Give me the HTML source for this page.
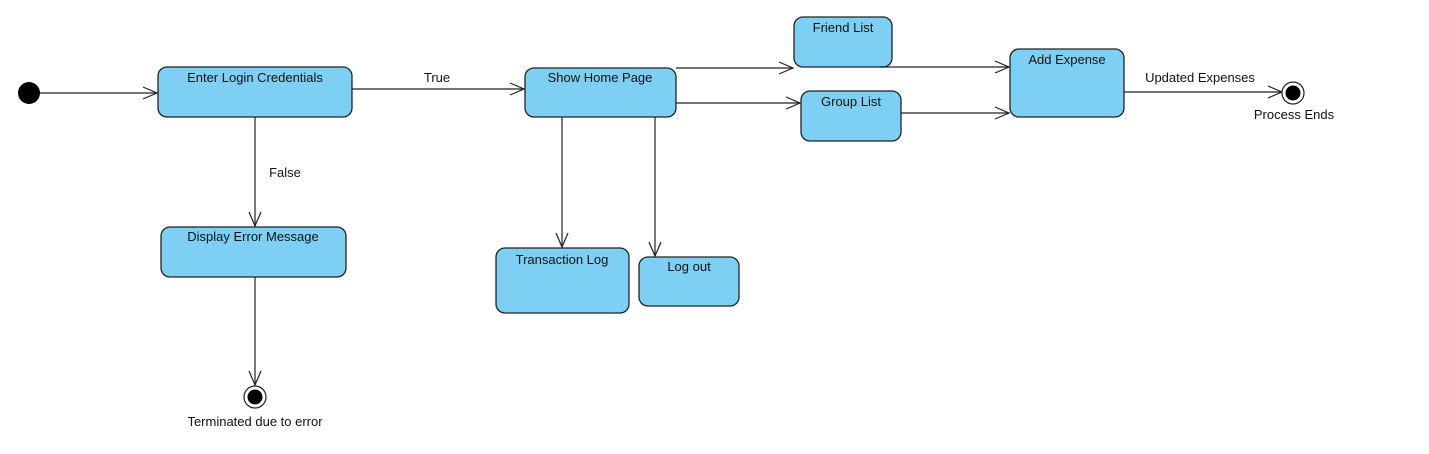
<!DOCTYPE html>
<html><head><style>
html,body{margin:0;padding:0;background:#fff;}
svg{display:block;font-family:"Liberation Sans",sans-serif;font-size:13px;}
</style></head><body>
<svg width="1429" height="454" viewBox="0 0 1429 454" xmlns="http://www.w3.org/2000/svg">
<g fill="#7ecff4" stroke="#222" stroke-width="1.3">
<rect x="158" y="67" width="194" height="50" rx="9"/>
<rect x="525" y="68" width="151" height="49" rx="9"/>
<rect x="794" y="17" width="98" height="50" rx="9"/>
<rect x="801" y="91" width="100" height="50" rx="9"/>
<rect x="1010" y="49" width="114" height="68" rx="9"/>
<rect x="161" y="227" width="185" height="50" rx="9"/>
<rect x="496" y="248" width="133" height="65" rx="9"/>
<rect x="639" y="257" width="100" height="49" rx="9"/>
</g>
<g stroke="#222" stroke-width="1.2" fill="none">
<line x1="40" y1="93" x2="157" y2="93"/><polyline points="143,87 157,93 143,99"/>
<line x1="352" y1="89" x2="524" y2="89"/><polyline points="510,83 524,89 510,95"/>
<line x1="676" y1="68" x2="793" y2="68"/><polyline points="779,62 793,68 779,74"/>
<line x1="676" y1="103" x2="800" y2="103"/><polyline points="786,97 800,103 786,109"/>
<line x1="880" y1="67" x2="1009" y2="67"/><polyline points="995,61 1009,67 995,73"/>
<line x1="901" y1="113" x2="1009" y2="113"/><polyline points="995,107 1009,113 995,119"/>
<line x1="1124" y1="92" x2="1282" y2="92"/><polyline points="1268,86 1282,92 1268,98"/>
<line x1="255" y1="117" x2="255" y2="226"/><polyline points="249,212 255,226 261,212"/>
<line x1="255" y1="277" x2="255" y2="385"/><polyline points="249,371 255,385 261,371"/>
<line x1="562" y1="117" x2="562" y2="247"/><polyline points="556,233 562,247 568,233"/>
<line x1="655" y1="117" x2="655" y2="256"/><polyline points="649,242 655,256 661,242"/>
</g>
<circle cx="29" cy="93" r="11" fill="#000"/>
<circle cx="1293" cy="93" r="11" fill="#fff" stroke="#222" stroke-width="1.2"/>
<circle cx="1293" cy="93" r="7.5" fill="#000"/>
<circle cx="255" cy="397" r="11" fill="#fff" stroke="#222" stroke-width="1.2"/>
<circle cx="255" cy="397" r="7.5" fill="#000"/>
<g fill="#111" text-anchor="middle">
<text x="255" y="82">Enter Login Credentials</text>
<text x="600" y="82">Show Home Page</text>
<text x="843" y="32">Friend List</text>
<text x="851" y="106">Group List</text>
<text x="1067" y="64">Add Expense</text>
<text x="253" y="241">Display Error Message</text>
<text x="562" y="264">Transaction Log</text>
<text x="689" y="271">Log out</text>
<text x="437" y="82">True</text>
<text x="285" y="177">False</text>
<text x="1200" y="82">Updated Expenses</text>
<text x="1294" y="119">Process Ends</text>
<text x="255" y="426">Terminated due to error</text>
</g>
</svg>
</body></html>
